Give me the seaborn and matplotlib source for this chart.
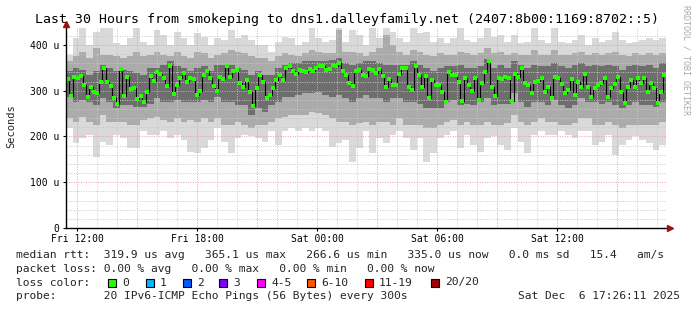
import numpy as np
import matplotlib
matplotlib.use("Agg")
import matplotlib.pyplot as plt
from matplotlib.patches import Rectangle
import seaborn as sns

# ---------------- data ----------------
title = "Last 30 Hours from smokeping to dns1.dalleyfamily.net (2407:8b00:1169:8702::5)"
T0 = 11 + 26 / 60 + 11 / 3600          # Fri 11:26:11, hours since Fri 00:00
T1 = T0 + 30

x_tick_hours = [12, 18, 24, 30, 36]
x_tick_labels = ["Fri 12:00", "Fri 18:00", "Sat 00:00", "Sat 06:00", "Sat 12:00"]
y_tick_vals = [0, 100, 200, 300, 400]
y_tick_labels = ["0", "100 u", "200 u", "300 u", "400 u"]

# median rtt (microseconds), one value per 10-minute step
median = [
    326, 289, 329, 327, 333, 313, 287, 308, 298, 295, 318, 349, 318, 310, 285,
    272, 347, 289, 329, 304, 305, 282, 289, 276, 298, 333, 321, 340, 336, 327,
    310, 353, 293, 313, 327, 338, 318, 327, 325, 291, 300, 334, 343, 327, 310,
    300, 329, 325, 353, 329, 342, 345, 316, 309, 324, 298, 267, 305, 334, 320,
    285, 291, 305, 324, 334, 324, 349, 353, 342, 336, 345, 343, 340, 347, 342,
    349, 353, 353, 345, 348, 356, 353, 360, 342, 334, 316, 310, 342, 345, 334,
    333, 348, 345, 338, 348, 333, 309, 325, 313, 313, 337, 349, 349, 309, 302,
    353, 334, 309, 333, 283, 324, 313, 313, 298, 276, 340, 334, 334, 320, 278,
    327, 313, 300, 327, 280, 316, 340, 365, 309, 289, 327, 326, 331, 327, 278,
    336, 331, 349, 316, 313, 294, 318, 321, 327, 298, 309, 283, 331, 327, 315,
    294, 302, 326, 291, 320, 309, 336, 309, 287, 305, 313, 316, 327, 287, 305,
    314, 329, 298, 273, 309, 324, 309, 327, 316, 327, 298, 316, 305, 273, 298,
    335,
]

# smoke envelopes (microseconds), one value per 20-minute step
out_hi = [
    378, 415, 440, 400, 429, 440, 440, 404, 400, 415, 440, 407, 400, 433, 422, 400, 429, 415, 400, 426, 418, 400,
    415, 411, 433, 415, 422, 411, 400, 400, 385, 407, 418, 415, 400, 407, 440, 415, 407, 411, 440, 407, 433, 422,
    400, 440, 415, 440, 429, 415, 407, 440, 426, 429, 407, 415, 404, 415, 440, 411, 407, 415, 440, 418, 422, 407,
    422, 404, 407, 440, 411, 404, 440, 407, 404, 411, 422, 400, 415, 407, 411, 429, 411, 404, 407, 411, 415, 411, 415,
]
mid_hi = [
    364, 375, 385, 371, 393, 378, 378, 375, 371, 375, 385, 375, 378, 385, 378, 375, 385, 375, 371, 385, 382, 371,
    378, 382, 389, 385, 382, 375, 371, 371, 364, 375, 382, 378, 375, 382, 389, 385, 382, 382, 433, 385, 385, 382,
    375, 385, 393, 422, 400, 385, 378, 389, 385, 378, 375, 382, 378, 378, 385, 382, 378, 382, 393, 382, 385, 378,
    382, 378, 378, 389, 378, 378, 389, 378, 378, 382, 385, 378, 382, 378, 382, 385, 378, 375, 382, 378, 382, 378, 382,
]
in_hi = [
    342, 349, 345, 334, 342, 356, 349, 342, 345, 342, 338, 334, 349, 349, 356, 364, 353, 349, 342, 349, 353, 342,
    356, 356, 356, 349, 345, 334, 342, 334, 334, 349, 356, 360, 360, 364, 364, 364, 364, 367, 371, 360, 356, 360,
    364, 364, 360, 356, 356, 356, 356, 364, 356, 349, 342, 349, 353, 353, 356, 349, 349, 353, 370, 349, 356, 349,
    364, 356, 349, 356, 353, 353, 360, 353, 349, 356, 360, 353, 356, 353, 356, 353, 345, 353, 356, 353, 356, 349, 360,
]
in_lo = [
    287, 276, 280, 276, 269, 283, 276, 262, 269, 269, 265, 265, 272, 283, 276, 276, 280, 276, 276, 276, 280, 276,
    287, 276, 276, 269, 269, 247, 262, 254, 269, 276, 287, 287, 291, 294, 294, 298, 291, 287, 291, 283, 276, 283,
    291, 283, 283, 276, 283, 283, 276, 276, 272, 262, 262, 262, 276, 280, 269, 272, 269, 276, 283, 269, 272, 272,
    294, 276, 265, 276, 276, 269, 280, 269, 262, 269, 283, 276, 276, 272, 276, 269, 262, 269, 276, 269, 269, 265, 276,
]
mid_lo = [
    240, 232, 243, 232, 225, 247, 232, 232, 232, 225, 225, 236, 240, 243, 236, 232, 240, 232, 236, 232, 240, 232,
    240, 225, 225, 232, 225, 218, 225, 225, 232, 240, 243, 247, 247, 247, 254, 251, 247, 240, 232, 232, 225, 229,
    232, 225, 232, 232, 225, 240, 225, 225, 225, 218, 218, 225, 232, 236, 225, 232, 225, 225, 232, 225, 225, 229,
    247, 232, 225, 232, 240, 232, 232, 225, 225, 229, 240, 240, 225, 225, 232, 225, 218, 225, 225, 225, 225, 225, 232,
]
out_lo = [
    218, 185, 196, 203, 156, 189, 181, 203, 196, 174, 174, 211, 203, 203, 211, 196, 203, 192, 167, 163, 174, 192,
    218, 189, 163, 196, 203, 200, 196, 189, 211, 181, 211, 218, 211, 218, 211, 218, 211, 178, 185, 192, 145, 174,
    211, 163, 196, 185, 203, 211, 196, 171, 196, 145, 163, 196, 203, 211, 174, 203, 181, 167, 196, 200, 181, 171,
    218, 189, 163, 203, 211, 203, 203, 211, 203, 196, 211, 211, 181, 189, 203, 160, 181, 192, 200, 192, 185, 171, 181,
]

legend_lines = [
    "median rtt:  319.9 us avg   365.1 us max   266.6 us min   335.0 us now   0.0 ms sd   15.4   am/s",
    "packet loss: 0.00 % avg   0.00 % max   0.00 % min   0.00 % now",
]
loss_labels = ["0", "1", "2", "3", "4-5", "6-10", "11-19", "20/20"]
loss_colors = ["#26ff00", "#00b8ff", "#0059ff", "#7e00ff", "#ff00ff", "#ff5500", "#ff0000", "#a10000"]
probe_line = "probe:       20 IPv6-ICMP Echo Pings (56 Bytes) every 300s"
stamp = "Sat Dec  6 17:26:11 2025"

# ---------------- style ----------------
sns.set_style("white")
plt.rcParams["font.family"] = ["DejaVu Sans Mono"]

W, H = 697, 310
fig = plt.figure(figsize=(W / 100, H / 100), dpi=100)
fig.patch.set_facecolor("white")
ax = fig.add_axes([66 / W, 82 / H, 600 / W, 200 / H])
ax.set_facecolor("white")

YMAX = 437
ax.set_xlim(T0, T1)
ax.set_ylim(0, YMAX)

# smoke
xe = np.linspace(T0, T1, len(out_hi) + 1)


def band(lo, hi, color):
    lo = np.append(lo, lo[-1])
    hi = np.append(hi, hi[-1])
    ax.fill_between(xe, lo, hi, step="post", color=color, lw=0, zorder=1)


band(out_lo, out_hi, "#d9d9d9")
band(mid_lo, mid_hi, "#ababab")
band(in_lo, in_hi, "#6e6e6e")

# grid (drawn on top of smoke like rrdtool)
for h in range(12, 42):
    if T0 < h < T1:
        major = (h % 3 == 0)
        ax.axvline(h, color="#e8a0a0" if major else "#c8c8c8", lw=0.7,
                   ls=(0, (1, 1.5)), zorder=2)
for v in range(20, YMAX, 20):
    major = (v % 100 == 0)
    ax.axhline(v, color="#e8a0a0" if major else "#c8c8c8", lw=0.7,
               ls=(0, (1, 1.5)), zorder=2)

# median
me = np.linspace(T0, T1, len(median) + 1)
mc = (me[:-1] + me[1:]) / 2
sns.lineplot(x=mc, y=median, drawstyle="steps-mid", color="black", lw=0.8,
             estimator=None, ax=ax, zorder=3)
sns.scatterplot(x=mc, y=median, marker="s", s=7, color="#26ff00", linewidth=0,
                ax=ax, zorder=4)
ax.set_xlabel("")
ax.set_ylabel("")

# axes
for s in ["top", "right"]:
    ax.spines[s].set_visible(False)
for s in ["left", "bottom"]:
    ax.spines[s].set_color("black")
    ax.spines[s].set_linewidth(1.0)
    ax.spines[s].set_zorder(5)
ax.plot([1.006], [0], marker=">", color="#a01010", ms=4, transform=ax.transAxes,
        clip_on=False, zorder=6)
ax.plot([0], [1.02], marker="^", color="#a01010", ms=4, transform=ax.transAxes,
        clip_on=False, zorder=6)

ax.set_xticks(x_tick_hours)
ax.set_xticklabels(x_tick_labels, fontsize=7)
ax.set_yticks(y_tick_vals)
ax.set_yticklabels(y_tick_labels, fontsize=7)
ax.tick_params(axis="both", bottom=True, left=True, length=2.5, width=0.8,
               color="black", pad=2, labelcolor="black")

# texts
fig.text(347 / W, 1 - 19 / H, title, ha="center", va="center", fontsize=9.5, color="black")
fig.text(11 / W, 1 - 126 / H, "Seconds", rotation=90, ha="center", va="center", fontsize=7.5)
fig.text(686 / W, 1 - 60 / H, "RRDTOOL / TOBI OETIKER", rotation=270, ha="center",
         va="center", fontsize=6, color="#aaaaaa")

FS = 8.07
fig.text(16 / W, 1 - 255 / H, legend_lines[0], ha="left", va="center", fontsize=FS)
fig.text(16 / W, 1 - 268.5 / H, legend_lines[1], ha="left", va="center", fontsize=FS)
fig.text(16 / W, 1 - 282.5 / H, "loss color:", ha="left", va="center", fontsize=FS)
fig.text(16 / W, 1 - 296 / H, probe_line, ha="left", va="center", fontsize=FS)
fig.text(680 / W, 1 - 296 / H, stamp, ha="right", va="center", fontsize=FS)

box_x = [108, 146, 183, 219, 257, 307, 365, 431]
for bx, lab, col in zip(box_x, loss_labels, loss_colors):
    fig.patches.append(Rectangle((bx / W, 1 - 286.5 / H), 7.5 / W, 7.5 / H,
                                 transform=fig.transFigure, facecolor=col,
                                 edgecolor="black", lw=0.8))
    fig.text((bx + 14) / W, 1 - 282.5 / H, lab, ha="left", va="center", fontsize=FS)

fig.savefig("out.png", dpi=100, facecolor="white")
